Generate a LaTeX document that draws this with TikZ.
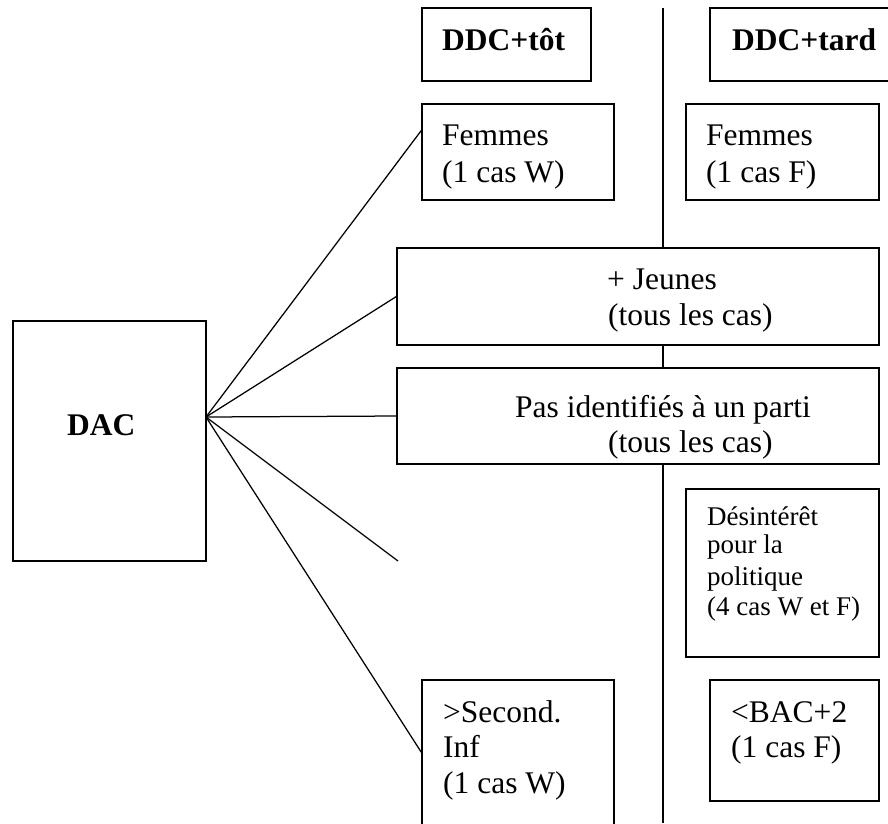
\documentclass[tikz,border=0pt]{standalone}
\usepackage{fontspec}
\setmainfont{Liberation Serif}
\usetikzlibrary{calc}
\begin{document}
\begin{tikzpicture}[x=1pt,y=-1pt,
  bx/.style={draw, line width=1.25pt, inner sep=0pt},
  ln/.style={line width=1.25pt},
  txt/.style={anchor=base west, inner sep=0pt, font=\fontsize{31.5}{37}\selectfont},
  btxt/.style={anchor=base west, inner sep=0pt, font=\fontsize{31.5}{37}\selectfont\bfseries},
  stxt/.style={anchor=base west, inner sep=0pt, font=\fontsize{27}{31}\selectfont}]
\clip (0,0) rectangle (888,823);
% boxes
\node[bx, minimum width=193pt, minimum height=240pt] (dac) at (109.5,441) {};
\node[bx, minimum width=169pt, minimum height=73pt] (ddcT) at (506.5,44.5) {};
\node[bx, minimum width=190pt, minimum height=73pt] (ddcL) at (805,44.5) {};
\node[bx, minimum width=192pt, minimum height=96pt] (femW) at (518,152) {};
\node[bx, minimum width=193pt, minimum height=96pt] (femF) at (782.5,152) {};
\node[bx, minimum width=482pt, minimum height=97pt] (jeu) at (638,296.5) {};
\node[bx, minimum width=482pt, minimum height=96pt] (pas) at (638,416) {};
\node[bx, minimum width=193pt, minimum height=168pt] (des) at (782.5,573) {};
\node[bx, minimum width=192pt, minimum height=160pt] (sec) at (518,760) {};
\node[bx, minimum width=169pt, minimum height=121pt] (bac) at (794.5,740.5) {};
% vertical divider
\coordinate (vtop) at (663,8);
\coordinate (vbot) at (663,823);
\draw[ln] (vtop) -- (vtop |- jeu.north);
\draw[ln] (vtop |- jeu.south) -- (vtop |- pas.north);
\draw[ln] (vtop |- pas.south) -- (vbot);
% fan connectors
\coordinate (fan) at (206,417);
\coordinate (free) at (398,561);
\draw[ln] (fan) -- ($(femW.north west)+(0,27)$);
\draw[ln] (fan) -- (jeu.west);
\draw[ln] (fan) -- (pas.west);
\draw[ln] (fan) -- (free);
\draw[ln] (fan) -- ($(sec.north west)+(0,73)$);
% texts
\node[btxt] (tdac) at (67,435) {DAC};
\node[btxt] (tddcT) at (442,50) {DDC+tôt};
\node[btxt] (tddcL) at (732,50) {DDC+tard};
\node[txt] (tfw1) at (442,145) {Femmes};
\node[txt] (tfw2) at (442,182) {(1 cas W)};
\node[txt] (tff1) at (706,145) {Femmes};
\node[txt] (tff2) at (706,182) {(1 cas F)};
\node[txt] (tj1) at (607,289) {+ Jeunes};
\node[txt] (tj2) at (608,325) {(tous les cas)};
\node[txt] (tp1) at (515,417) {Pas identifiés à un parti};
\node[txt] (tp2) at (608,452) {(tous les cas)};
\node[stxt] (td1) at (707,525) {Désintérêt};
\node[stxt] (td2) at (707,553) {pour la};
\node[stxt] (td3) at (707,585) {politique};
\node[stxt] (td4) at (707,615) {(4 cas W et F)};
\node[txt] (ts1) at (443,722) {>Second.};
\node[txt] (ts2) at (443,757) {Inf};
\node[txt] (ts3) at (443,793) {(1 cas W)};
\node[txt] (tb1) at (731,722) {<BAC+2};
\node[txt] (tb2) at (731,757) {(1 cas F)};
\end{tikzpicture}
\end{document}
